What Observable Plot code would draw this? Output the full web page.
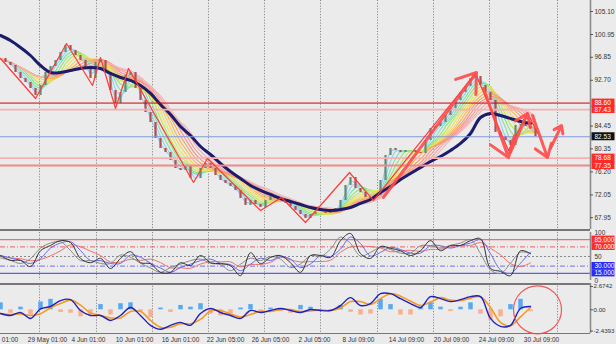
<!DOCTYPE html>
<html><head><meta charset="utf-8">
<script src="https://cdn.jsdelivr.net/npm/d3@7"></script>
<script src="https://cdn.jsdelivr.net/npm/@observablehq/plot@0.6"></script>
<style>
html,body{margin:0;padding:0;background:#ebebeb;overflow:hidden;}
#chart svg{display:block;}
</style></head><body><div id="chart"></div>
<script>
// ---- price (close) every 5px-bar step, index 0..107
const closes = [96.63,95.91,95.37,94.11,93.03,92.31,91.23,89.96,91.77,94.11,
95.19,96.27,97.71,98.97,98.07,97.17,96.27,94.83,93.03,95.91,
96.27,94.11,90.87,88.52,90.51,93.57,94.11,91.23,89.06,86.90,
85.10,82.22,80.42,79.69,78.25,76.81,76.45,77.35,75.01,75.01,
76.81,77.71,76.81,75.55,74.65,74.11,73.57,72.85,71.41,70.15,
71.05,70.33,69.78,71.05,71.77,71.41,71.23,70.51,69.96,69.24,
68.52,67.80,68.52,68.88,68.88,68.70,68.88,69.60,71.05,73.75,
75.19,73.21,72.49,71.59,71.41,71.95,74.65,79.15,80.42,80.05,
79.69,80.05,80.05,79.69,79.51,81.86,84.02,84.38,85.10,86.36,
87.62,89.06,90.51,91.59,93.03,93.39,91.77,90.51,89.06,83.30,
82.58,81.86,80.96,84.56,84.74,84.38,84.02,82.53];
// slow moving average (navy), every 2 bars
const navyMA = [100.78,99.87,98.61,97.17,95.37,94.11,94.11,94.47,94.83,95.01,
94.83,93.93,93.21,92.67,91.77,90.33,88.34,86.54,84.38,82.76,
80.78,79.33,77.71,76.27,75.01,73.75,72.85,72.13,71.41,70.87,
70.33,69.78,69.42,69.24,69.42,69.78,70.51,71.23,72.49,73.57,
74.83,75.91,76.99,78.07,78.97,80.05,81.32,83.12,86.00,86.72,
86.36,85.82,85.28,84.92];
// zigzag vertices
const zigIdx = [0,7,13.2,18.4,20,23,25.6,38.6,41.4,52,56.2,61,69.8,74.6,95,101.6,105.4,107.4];
const zigPrice = [96.63,89.42,99.33,91.77,96.81,87.62,94.83,74.29,78.61,69.24,71.59,67.08,76.09,71.05,93.93,80.05,86.9,83.12];
// drawn arrows
const arrX1 = [76.6,96.6,102,106.4,110];
const arrY1 = [71.59,91.23,79.69,86.36,80.42];
const arrX2 = [95.2,101.6,105.4,109.4,112.2];
const arrY2 = [94.11,78.79,86.72,78.79,84.56];
// horizontal levels
const levels = [88.60,87.43,82.53,78.68,77.35];
const levelColors = ["#d00000","#f6b0b0","#7f9ad8","#f6b0b0","#f08a8a"];
const levelWidths = [1,1.8,1,1.6,2];
const levelBox = ["#ff2a2a","#ff2a2a","#111111","#ff2a2a","#ff2a2a"];
const priceTicks = ["105.10","100.95","96.85","92.70","84.45","80.35","76.20","72.05","67.95"];
// RSI (fast) every 2 bars
const rsi = [52,42,42,29,62,73,83,79,46,37,
 46,25,46,60,37,35,17,17,37,31,
 52,37,35,31,10,58,35,48,52,37,
 17,52,52,48,83,98,56,46,71,67,
 62,52,62,83,62,73,73,83,87,25,
 19,10,62,56];
const rsiLevels = [85,70,50,30,15];
const rsiLabels = ["85.000","70.000","50","30.000","15.000"];
// MACD every 2 bars
const macd = [-0.42,-0.65,-0.31,-0.99,0.10,0.38,1.06,1.17,-0.08,-0.65,
 -0.65,-1.22,-0.65,0.26,-0.65,-1.78,-2.24,-1.78,-1.44,-1.78,
 -0.42,0.15,-0.31,-0.65,-0.99,-0.08,-0.31,-0.08,0.15,-0.08,
 -0.31,0.03,-0.08,-0.08,0.49,1.40,0.49,0.72,1.85,1.85,
 1.28,0.72,0.26,1.51,1.28,0.94,1.17,1.51,1.51,-0.99,
 -1.90,-1.78,0.15,0.38];
const hist = [0.8,-0.4,0.3,-0.6,0.9,1.2,-0.3,-0.4,-0.8,-0.6,
 0.6,-0.6,0.7,0.8,-0.3,-0.9,0.2,-0.3,0.5,0.3,
 0.7,-0.5,-0.7,-0.5,0.2,0.6,-0.3,0.2,-0.2,-0.4,
 0.5,0.3,-0.2,-0.2,0.5,-0.3,-0.6,-0.5,1.2,0.6,
 -0.6,-0.6,0.3,0.8,0.3,-0.2,0.3,0.8,-0.5,-1.2,
 -0.8,0.6,1.2,-0.2];
const macdTicks = [2.6742,0,-2.4393];
const macdTickLabels = ["2.6742","0.00","-2.4393"];
// time axis
const gridIdx = [7.8,19.2,30.4,41.6,52.8,64,75.4,86.6,97.8,111.4];
const timeLabels = ["01:00","29 May 01:00","4 Jun 01:00","10 Jun 01:00","16 Jun 01:00","22 Jun 05:00","26 Jun 05:00","2 Jul 05:00","8 Jul 09:00","14 Jul 09:00","20 Jul 09:00","24 Jul 09:00","30 Jul 09:00"];
const timeLabelIdx = [1.9,9.4,17.6,26.8,36,45,54,62.8,71.6,81.2,90.2,99.2,108.2];

// ---- tables
const bars = closes.map((c,i)=>({i, close:c, open: i ? closes[i-1] : c}));
const navyRows = navyMA.map((v,j)=>({i:j*2, v}));
const zigRows = zigIdx.map((x,j)=>({i:x, p:zigPrice[j]}));
const arrows = arrX1.map((x,j)=>({x1:x, y1:arrY1[j], x2:arrX2[j], y2:arrY2[j]}));
const lvRows = levels.map((v,j)=>({v, c:levelColors[j], w:levelWidths[j], b:levelBox[j]}));
const rsiRows = rsi.map((v,j)=>({i:j*2, v}));
const macdRows = macd.map((v,j)=>({i:j*2, v, h:hist[j]}));

const W = 616, XMAX = 123.2, AX = 118;
const BG = "#ebebeb";
const FS = 6.5;
const font = {fontFamily:"'Liberation Sans', Arial, sans-serif", fontSize:"6.5px", background:BG, overflow:"hidden"};
const xScale = {domain:[0,XMAX], range:[0,W]};
const grid = ()=> Plot.ruleX(gridIdx, {x:d=>d, stroke:"#8a8a8a", strokeWidth:1, strokeDasharray:"1.2,1.6"});
const axisLine = Plot.ruleX([AX], {stroke:"#8c8c8c", strokeWidth:1.6});

const ribbonK = [2,3,4,5,6,7,8,9,10,11,12,13,14];
const ribbonC = ["#9cc8f4","#8ad6f0","#7fe0b0","#8ee47a","#bce85a","#e4e85a","#f6d25a","#f8b850","#f8a068","#f69080","#f49a9a","#f2a8a8","#f0b6b6"];

const main = Plot.plot({
  width:W, height:229, margin:0,
  x:{...xScale, axis:null}, y:{domain:[65.82,107.08], range:[229,0], axis:null},
  style:font,
  marks:[
    grid(),
    ...ribbonK.map((k,j)=>Plot.lineY(bars, Plot.windowY({k, anchor:"end", reduce:"mean"}, {x:"i", y:"close", stroke:ribbonC[j], strokeWidth:1.1, curve:"catmull-rom"}))),
    Plot.ruleX(bars, {x:"i", y1:"open", y2:"close", stroke:d=>d.close>=d.open?"#5f8f72":"#b05050", strokeWidth:2.2}),
    Plot.line(navyRows, {x:"i", y:"v", stroke:"#1c1c6a", strokeWidth:3, curve:"catmull-rom"}),
    Plot.ruleY(lvRows, {y:"v", x1:0, x2:AX, stroke:"c", strokeWidth:"w"}),
    Plot.line(zigRows, {x:"i", y:"p", stroke:"#ff3a3a", strokeWidth:1.2}),
    Plot.arrow(arrows, {x1:"x1", y1:"y1", x2:"x2", y2:"y2", stroke:"#ff4a4a", strokeOpacity:0.9, strokeWidth:3, headLength:11, headAngle:70}),
    axisLine,
    Plot.ruleY(priceTicks, {y:d=>+d, x1:AX, x2:AX+0.6, stroke:"#555"}),
    Plot.text(priceTicks, {x:AX, y:d=>+d, text:d=>d, dx:4, textAnchor:"start", fill:"#333", fontSize:FS}),
    Plot.rect(lvRows, {x1:AX+0.3, x2:XMAX-0.3, y1:d=>d.v-0.72, y2:d=>d.v+0.72, fill:"b"}),
    Plot.text(lvRows, {x:AX+0.6, y:"v", text:d=>d.v.toFixed(2), dx:1, textAnchor:"start", fill:"white", fontSize:FS})
  ]
});

const rsiPlot = Plot.plot({
  width:W, height:54, marginTop:3, marginBottom:3, marginLeft:0, marginRight:0,
  x:{...xScale, axis:null}, y:{domain:[0,100], axis:null},
  style:font,
  marks:[
    grid(),
    Plot.ruleY([85], {x1:0, x2:AX, stroke:"#f05050", strokeWidth:1}),
    Plot.ruleY([70], {x1:0, x2:AX, stroke:"#f06060", strokeWidth:1, strokeDasharray:"5,2,1,2"}),
    Plot.ruleY([50], {x1:0, x2:AX, stroke:"#8a8a8a", strokeWidth:1, strokeDasharray:"2,2"}),
    Plot.ruleY([30], {x1:0, x2:AX, stroke:"#7070f0", strokeWidth:1, strokeDasharray:"5,2,1,2"}),
    Plot.ruleY([15], {x1:0, x2:AX, stroke:"#3a3af0", strokeWidth:1}),
    Plot.lineY(rsiRows, Plot.windowY({k:4, anchor:"end"}, {x:"i", y:"v", stroke:"#f07070", strokeWidth:1, curve:"catmull-rom"})),
    Plot.lineY(rsiRows, Plot.windowY({k:2, anchor:"end"}, {x:"i", y:"v", stroke:"#6a6af0", strokeWidth:1, curve:"catmull-rom"})),
    Plot.lineY(rsiRows, Plot.windowY({k:2, anchor:"middle"}, {x:"i", y:"v", stroke:"#8a8a8a", strokeWidth:1, curve:"catmull-rom"})),
    Plot.line(rsiRows, {x:"i", y:"v", stroke:"#333", strokeWidth:1, curve:"catmull-rom"}),
    axisLine,
    Plot.text(["100"], {x:AX, y:100, text:d=>d, dx:4, textAnchor:"start", fill:"#333", fontSize:FS}),
    Plot.text(["0"], {x:AX, y:0, text:d=>d, dx:4, textAnchor:"start", fill:"#333", fontSize:FS}),
    Plot.rect(rsiLevels.filter(v=>v!==50), {x1:AX+0.3, x2:XMAX-0.3, y1:d=>d-7.5, y2:d=>d+7.5, fill:d=>d>50?"#ff2a2a":"#2a2aff"}),
    Plot.text(rsiLevels, {x:AX, y:d=>d, text:(d,j)=>rsiLabels[j], dx:4, textAnchor:"start", fill:d=>d===50?"#333":"white", fontSize:FS})
  ]
});

const macdPlot = Plot.plot({
  width:W, height:61, marginTop:0, marginBottom:11, marginLeft:0, marginRight:0,
  x:{...xScale, axis:null}, y:{domain:[-2.72,3.02], axis:null},
  style:font,
  marks:[
    grid(),
    Plot.ruleX(macdRows, {x:"i", y1:0, y2:"h", stroke:d=>d.h>=0?"#5aa8f0":"#f8b090", strokeWidth:4.5}),
    Plot.lineY(macdRows, Plot.windowY({k:2, anchor:"end"}, {x:"i", y:"v", stroke:"#f59a20", strokeWidth:1.6, curve:"catmull-rom"})),
    Plot.line(macdRows, {x:"i", y:"v", stroke:"#2020c0", strokeWidth:1.4, curve:"catmull-rom"}),
    Plot.dot([{i:107.4, v:0}], {x:"i", y:"v", r:24, stroke:"#f05a5a", strokeWidth:1.2, fill:"none"}),
    axisLine,
    Plot.ruleY([-2.72], {x1:0, x2:AX, stroke:"#777", strokeWidth:1}),
    Plot.ruleY(macdTicks, {y:d=>d, x1:AX, x2:AX+0.6, stroke:"#555"}),
    Plot.text(macdTicks, {x:AX, y:d=>d, text:(d,j)=>macdTickLabels[j], dx:3, textAnchor:"start", fill:"#333", fontSize:6.2}),
    Plot.text(timeLabels, {x:(d,j)=>timeLabelIdx[j], y:-2.72, dy:6.5, text:d=>d, textAnchor:"middle", fill:"#333", fontSize:6.5})
  ]
});

const root = document.getElementById("chart");
root.append(main, rsiPlot, macdPlot);
// panel separators
for (const svg of [rsiPlot, macdPlot]) {
  d3.select(svg).append("rect").attr("x",0).attr("y",0).attr("width",590).attr("height",2).attr("fill","#777");
}
</script></body></html>
